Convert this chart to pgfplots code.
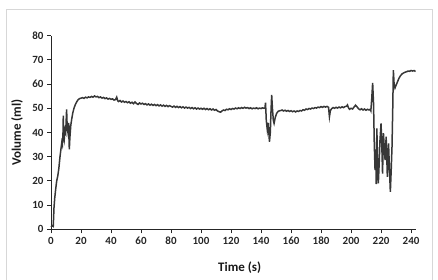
\documentclass[border=0pt]{standalone}
\usepackage{fontspec}
\setmainfont{Carlito}
\usepackage{pgfplots}
\pgfplotsset{compat=1.18}
\definecolor{trace}{RGB}{55,55,55}
\definecolor{framec}{RGB}{215,215,215}
\begin{document}
\begin{tikzpicture}[x=1pt,y=1pt]
\useasboundingbox (0,0) rectangle (438,280);
\clip (0,0) rectangle (438,280);
\draw[color=framec, line width=1pt] (6.7,-5) -- (6.7,270.7) -- (432.3,270.7) -- (432.3,-5);
\begin{axis}[
  at={(51pt,50.7pt)}, anchor=south west,
  scale only axis, width=365pt, height=193.6pt,
  xmin=0, xmax=243.3, ymin=0, ymax=80,
  axis lines*=left,
  axis line style={line width=1pt, color=black!85},
  tick align=outside, major tick length=4pt,
  tick style={line width=1pt, color=black!85},
  xtick={0,20,...,240}, ytick={0,10,...,80},
  /pgf/number format/assume math mode=true,
  tick label style={font=\bfseries\fontsize{11}{11}\selectfont, color=black!85},
  xlabel={Time (s)}, ylabel={Volume (ml)},
  label style={font=\bfseries\fontsize{13}{13}\selectfont, color=black!90},
  xlabel style={at={(rel axis cs:0.517,-0.2)}, anchor=center},
  ylabel style={at={(rel axis cs:-0.0932,0.5)}, anchor=center},
  clip=false,
]
\addplot[color=trace, line width=1.5pt, no markers] coordinates {
(0,1.0) (0.8,1.5) (1.5,1.2) (2.0,9) (2.5,13) (3.2,17) (3.8,20) (4.5,22) (5.2,25) (6.0,30)
(6.6,33) (7.2,36) (7.6,35) (8.0,40) (8.2,47) (8.5,38) (8.8,37) (9.3,41) (9.8,40) (10.4,49.5)
(10.8,42) (11.3,40) (11.8,44) (12.2,33) (12.6,38) (13.2,43) (13.8,45.5) (14.5,48) (15.3,50) (16.2,51.5)
(17,52.5) (18,53.5) (19,54)
(20,54.2) (21,54.4) (22,54.1) (23,54.6) (24,54.3) (25,54.7) (26,54.5) (27,54.9) (28,54.6) (29,55.1)
(30,54.7) (31,54.9) (32,54.4) (33,54.7) (34,54.2) (35,54.5) (36,54.0) (37,54.3) (38,53.8) (39,54.1)
(40,53.7) (41,53.9) (42,53.4) (43,53.6) (43.8,54.6) (44.5,53.1) (45,52.8) (46,53.2) (47,52.6) (48,53.0)
(49,52.5) (50,52.8) (51,52.3) (52,52.7) (53,52.1) (54,52.5) (55,51.9) (56,52.6) (57,52.0) (58,51.6)
(59,52.2) (60,51.8) (61,52.1) (62,51.6) (63,51.9) (64,51.4) (65,51.8) (66,51.3) (67,51.7) (68,51.2)
(69,51.6) (70,51.1) (71,51.5) (72,51.0) (73,51.4) (74,50.9) (75,51.3) (76,50.8) (77,51.2) (78,50.7)
(79,51.1) (80,50.8) (81,50.5) (82,50.9) (83,50.4) (84,50.8) (85,50.3) (86,50.7) (87,50.2) (88,50.6)
(89,50.1) (90,50.5) (91,50.1) (92,50.4) (93,49.9) (94,50.3) (95,49.8) (96,50.2) (97,49.7) (98,50.1)
(99,49.7) (100,50.0) (101,49.6) (102,50.0) (103,49.5) (104,49.9) (105,49.4) (106,49.8) (107,49.3) (108,49.7)
(109,49.2) (110,49.5) (111,48.9) (112,48.6) (113,48.4) (114,48.9) (115,49.3) (116,49.1) (117,49.6) (118,49.4)
(119,49.8) (120,49.5) (121,49.9) (122,49.7) (123,50.1) (124,49.8) (125,50.2) (126,49.9) (127,50.3) (128,50.0)
(129,50.4) (130,50.1) (131,50.3) (132,49.9) (133,50.2) (134,49.8) (135,50.1) (136,49.9) (137,50.2) (138,49.8)
(139,50.1) (140,49.9) (141,50.2) (142,50.0) (142.6,50.1)
(143.0,52.3) (143.5,45) (144.2,41) (144.8,44) (145.6,36.2) (146.2,40) (146.6,48) (147.1,55.5) (147.6,50) (148.2,45)
(148.7,43.8) (149.4,46) (150.4,47.9) (151.5,48.8) (152.6,49)
(153,49.0) (154,49.3) (155,48.9) (156,49.2) (157,48.8) (158,49.1) (159,48.7) (160,49.0) (161,48.6) (162,48.9)
(163,48.5) (164,48.9) (165,48.7) (166,49.1) (167,48.9) (168,49.4) (169,49.2) (170,49.7) (171,49.5) (172,49.9)
(173,49.7) (174,50.1) (175,49.9) (176,50.3) (177,50.1) (178,50.5) (179,50.3) (180,50.7) (181,50.4) (182,50.8)
(183,50.5) (184,50.8) (185,50.4) (185.6,46.5) (186.2,49.0) (187,49.8) (188,50.3) (189,50.0) (190,50.4) (191,50.1)
(192,50.5) (193,50.2) (194,50.6) (195,50.3) (196,50.7) (197,50.9) (197.6,51.4) (198.3,50.2) (199,49.6) (200,50.0)
(201,49.7) (202,50.5) (203,51.3) (204,50.6) (205,49.8) (206,49.4) (207,49.8) (208,49.3) (209,49.7) (210,49.2)
(211,49.6) (212,49.3) (212.8,49.6)
(213.2,49.0) (213.8,54) (214.4,60.5) (215.0,52) (215.5,35) (216.0,24.5) (216.5,33) (216.8,18.7) (217.2,41.7) (217.6,30)
(218.2,19) (218.8,28) (219.3,36.9) (220.0,43.8) (220.5,35) (221.0,23) (221.6,39.7) (222.2,33) (222.7,28.6) (223.4,38.3)
(223.8,30) (224.2,21.7) (225.0,35.5) (225.6,25) (226.2,15.5) (226.8,25) (227.3,34) (227.8,50) (228.2,65.8) (228.7,60)
(229.3,58.4) (230,59.5) (231,61) (232,62.5) (233,63.5) (234,64.2) (235,64.6) (236,64.9) (237,65.1) (238,65.4)
(239,65.3) (240,65.6) (241,65.4) (242,65.6) (243,65.2)
};
\end{axis}
\end{tikzpicture}
\end{document}
